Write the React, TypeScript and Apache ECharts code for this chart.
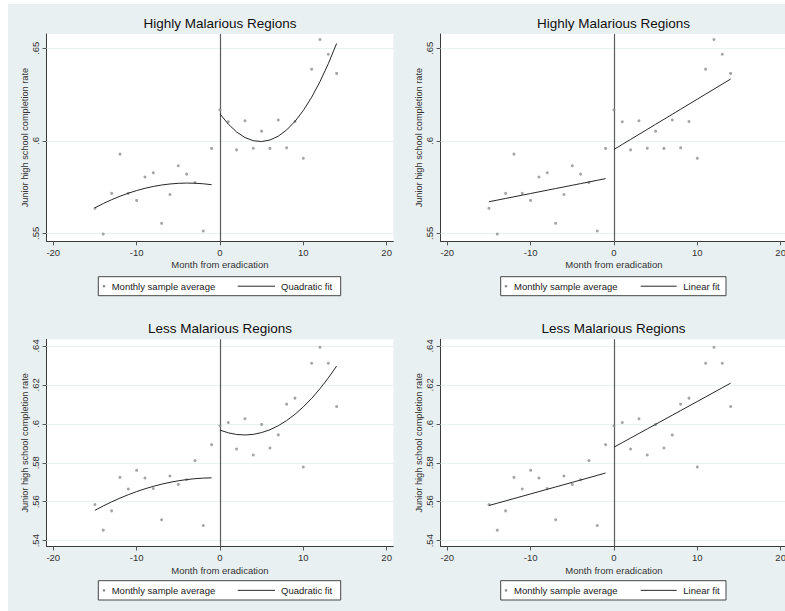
import React, { useEffect, useRef } from "react";
import * as echarts from "echarts";

// ---------- data ----------
const months = [-15, -14, -13, -12, -11, -10, -9, -8, -7, -6, -5, -4, -3, -2, -1, 0, 1, 2, 3, 4, 5, 6, 7, 8, 9, 10, 11, 12, 13, 14];
const highMalariaRate = [
  0.5635, 0.5496, 0.5716, 0.5928, 0.5716, 0.5678, 0.5804, 0.5827, 0.5554, 0.571, 0.5865, 0.582, 0.5775, 0.5513, 0.5959,
  0.6167, 0.6103, 0.5951, 0.6108, 0.596, 0.6052, 0.5959, 0.6112, 0.5962, 0.6104, 0.5906, 0.6387, 0.6547, 0.6468, 0.6364,
];
const lowMalariaRate = [
  0.5586, 0.5454, 0.5553, 0.5725, 0.5665, 0.5761, 0.5722, 0.5668, 0.5507, 0.5732, 0.5689, 0.5713, 0.5811, 0.5478, 0.5893,
  0.599, 0.6007, 0.5871, 0.6026, 0.584, 0.5997, 0.5876, 0.5943, 0.6101, 0.6132, 0.5778, 0.6311, 0.6393, 0.6311, 0.6089,
];
const xTicks = [-20, -10, 0, 10, 20];
const yTicksHigh = [0.55, 0.6, 0.65];
const yTicksLow = [0.54, 0.56, 0.58, 0.6, 0.62, 0.64];
const titleHigh = "Highly Malarious Regions";
const titleLow = "Less Malarious Regions";
const scatterLabel = "Monthly sample average";
const quadLabel = "Quadratic fit";
const linLabel = "Linear fit";
const xName = "Month from eradication";
const yName = "Junior high school completion rate";

// ---------- helpers ----------
function polyfit(xs: number[], ys: number[], deg: number): number[] {
  const n = deg + 1;
  const A: number[][] = [];
  for (let r = 0; r < n; r++) {
    const row: number[] = [];
    for (let c = 0; c < n; c++) {
      let s = 0;
      for (const x of xs) s += Math.pow(x, r + c);
      row.push(s);
    }
    let b = 0;
    xs.forEach((x, i) => (b += Math.pow(x, r) * ys[i]));
    row.push(b);
    A.push(row);
  }
  for (let i = 0; i < n; i++) {
    let p = i;
    for (let k = i + 1; k < n; k++) if (Math.abs(A[k][i]) > Math.abs(A[p][i])) p = k;
    [A[i], A[p]] = [A[p], A[i]];
    for (let k = i + 1; k < n; k++) {
      const f = A[k][i] / A[i][i];
      for (let c = i; c <= n; c++) A[k][c] -= f * A[i][c];
    }
  }
  const coef = new Array(n).fill(0);
  for (let i = n - 1; i >= 0; i--) {
    let s = A[i][n];
    for (let c = i + 1; c < n; c++) s -= A[i][c] * coef[c];
    coef[i] = s / A[i][i];
  }
  return coef;
}
function fitLine(side: (m: number) => boolean, vals: number[], deg: number) {
  const xs: number[] = [];
  const ys: number[] = [];
  months.forEach((m, i) => {
    if (side(m)) {
      xs.push(m);
      ys.push(vals[i]);
    }
  });
  const c = polyfit(xs, ys, deg);
  return xs.map((x) => [x, c.reduce((s, ci, k) => s + ci * Math.pow(x, k), 0)]);
}
const fmtY = (v: number) => String(+v.toFixed(2)).replace(/^0/, "");

const FONT = '"Liberation Sans", Arial, Helvetica, sans-serif';
const BG = "#E9F0F2";
const SMALL = 9.5;

const panels = [
  { vals: highMalariaRate, deg: 2, title: titleHigh, fit: quadLabel, yTicks: yTicksHigh, yMin: 0.5457, yMax: 0.6577,
    gl: 46.6, gt: 34, gh: 207.3, tx: 220, ty: 23.3,
    leg: { x: 98.3, y: 276.7, w: 242.4, h: 19, dot: 104, t1: 111.7, l1: 237.7, l2: 275, t2: 281 } },
  { vals: highMalariaRate, deg: 1, title: titleHigh, fit: linLabel, yTicks: yTicksHigh, yMin: 0.5457, yMax: 0.6577,
    gl: 440.6, gt: 34, gh: 207.3, tx: 613.5, ty: 23.3,
    leg: { x: 500.7, y: 276.7, w: 225.3, h: 19, dot: 506, t1: 514, l1: 640.7, l2: 676.7, t2: 683.3 } },
  { vals: lowMalariaRate, deg: 2, title: titleLow, fit: quadLabel, yTicks: yTicksLow, yMin: 0.537, yMax: 0.6434,
    gl: 46.6, gt: 339.3, gh: 207.2, tx: 220, ty: 328.3,
    leg: { x: 98.3, y: 580.7, w: 242.4, h: 19.3, dot: 104, t1: 111.7, l1: 237.7, l2: 275, t2: 281 } },
  { vals: lowMalariaRate, deg: 1, title: titleLow, fit: linLabel, yTicks: yTicksLow, yMin: 0.537, yMax: 0.6434,
    gl: 440.6, gt: 339.3, gh: 207.2, tx: 613.5, ty: 328.3,
    leg: { x: 500.7, y: 580.7, w: 225.3, h: 19.3, dot: 506, t1: 514, l1: 640.7, l2: 676.7, t2: 683.3 } },
];

function buildOption() {
  const grid: any[] = [];
  const xAxis: any[] = [];
  const yAxis: any[] = [];
  const series: any[] = [];
  const graphic: any[] = [
    { type: "rect", z: -10, shape: { x: 8, y: 4, width: 785, height: 611 }, style: { fill: BG } },
  ];
  panels.forEach((p, i) => {
    grid.push({
      left: p.gl, top: p.gt, width: 346.7, height: p.gh,
      show: true, backgroundColor: "#ffffff", borderWidth: 0,
      containLabel: false, outerBoundsMode: "none",
    });
    xAxis.push({
      gridIndex: i, type: "value", min: -20.8, max: 20.8,
      axisLine: { show: true, onZero: false, lineStyle: { color: "#3a3a3a", width: 1 } },
      axisTick: { show: true, customValues: xTicks, length: 4, lineStyle: { color: "#555" } },
      axisLabel: { customValues: xTicks, margin: 6, fontSize: SMALL, color: "#333", fontFamily: FONT },
      splitLine: { show: false },
      name: xName, nameLocation: "middle", nameGap: 18.5,
      nameTextStyle: { fontSize: SMALL, color: "#333", fontFamily: FONT },
    });
    yAxis.push({
      gridIndex: i, type: "value", min: p.yMin, max: p.yMax,
      axisLine: { show: true, onZero: false, lineStyle: { color: "#3a3a3a", width: 1 } },
      axisTick: { show: true, customValues: p.yTicks, length: 4, lineStyle: { color: "#555" } },
      axisLabel: { customValues: p.yTicks, rotate: 90, margin: 6, fontSize: SMALL, color: "#333", fontFamily: FONT, formatter: fmtY },
      splitLine: { show: false },
      name: yName, nameLocation: "middle", nameRotate: 90, nameGap: 17,
      nameTextStyle: { fontSize: 9.2, color: "#333", fontFamily: FONT },
    });
    series.push({
      type: "scatter", xAxisIndex: i, yAxisIndex: i,
      data: months.map((m, k) => [m, p.vals[k]]),
      symbol: "circle", symbolSize: 3,
      itemStyle: { color: "#8e8e8e" },
      z: 3,
      markLine: {
        silent: true, symbol: ["none", "none"], label: { show: false }, z: 1,
        data: [
          ...p.yTicks.map((v) => ({ yAxis: v, lineStyle: { color: "#EAF1F2", width: 1, type: "solid" } })),
          { xAxis: 0, lineStyle: { color: "#5c5c5c", width: 1.2, type: "solid" } },
        ],
      },
    });
    series.push({
      type: "line", xAxisIndex: i, yAxisIndex: i, showSymbol: false, z: 4,
      data: fitLine((m) => m < 0, p.vals, p.deg),
      lineStyle: { color: "#262626", width: 1 },
    });
    series.push({
      type: "line", xAxisIndex: i, yAxisIndex: i, showSymbol: false, z: 4,
      data: fitLine((m) => m >= 0, p.vals, p.deg),
      lineStyle: { color: "#262626", width: 1 },
    });
    // title
    graphic.push({
      type: "text", x: p.tx, y: p.ty,
      style: { text: p.title, fontSize: 13.5, fontFamily: FONT, fill: "#111", align: "center", verticalAlign: "middle" },
    });
    // legend
    const L = p.leg;
    const cy = L.y + L.h / 2;
    graphic.push({
      type: "group",
      children: [
        { type: "rect", shape: { x: L.x, y: L.y, width: L.w, height: L.h }, style: { fill: "#fff", stroke: "#444", lineWidth: 1 } },
        { type: "circle", shape: { cx: L.dot, cy: cy, r: 1.3 }, style: { fill: "#8e8e8e" } },
        { type: "text", x: L.t1, y: cy, style: { text: scatterLabel, fontSize: SMALL, fontFamily: FONT, fill: "#222", align: "left", verticalAlign: "middle" } },
        { type: "line", shape: { x1: L.l1, y1: cy, x2: L.l2, y2: cy }, style: { stroke: "#262626", lineWidth: 1 } },
        { type: "text", x: L.t2, y: cy, style: { text: p.fit, fontSize: SMALL, fontFamily: FONT, fill: "#222", align: "left", verticalAlign: "middle" } },
      ],
    });
  });
  return {
    animation: false,
    backgroundColor: "#ffffff",
    grid, xAxis, yAxis, series, graphic,
  };
}

export default function App() {
  const ref = useRef<HTMLDivElement>(null);
  useEffect(() => {
    if (!ref.current) return;
    const chart = echarts.init(ref.current, undefined, { renderer: "svg" });
    chart.setOption(buildOption() as any);
    return () => chart.dispose();
  }, []);
  return <div ref={ref} style={{ position: "fixed", left: 0, top: 0, width: 785, height: 611 }} />;
}
